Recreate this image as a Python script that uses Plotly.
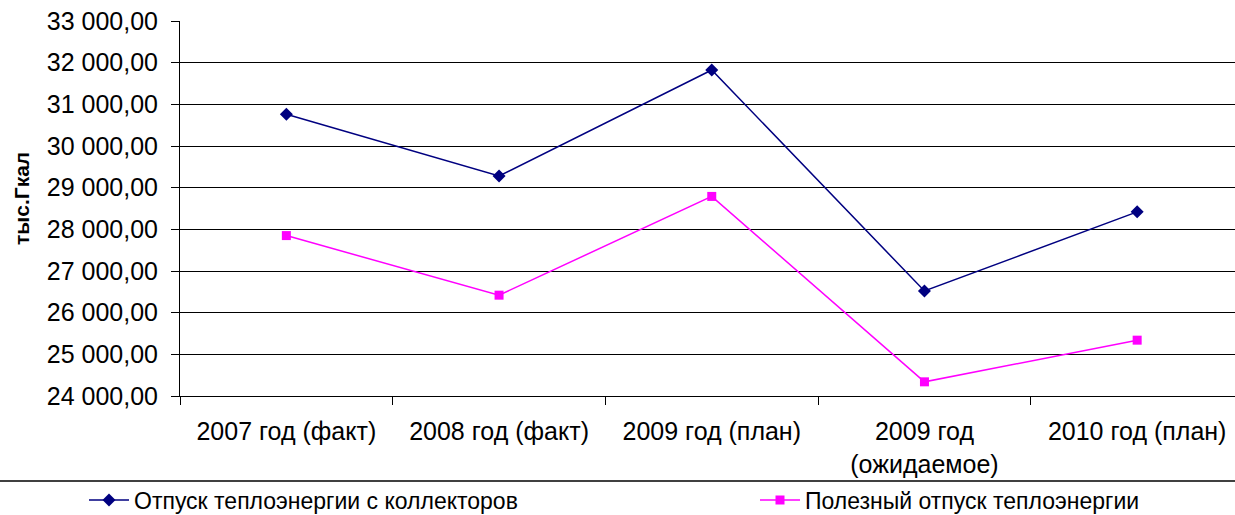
import plotly.graph_objects as go

categories = ["2007 год (факт)", "2008 год (факт)", "2009 год (план)", "2009 год<br>(ожидаемое)", "2010 год (план)"]
series1_name = "Отпуск теплоэнергии с коллекторов"
series1 = [30760, 29280, 31825, 26520, 28420]
series2_name = "Полезный отпуск теплоэнергии"
series2 = [27850, 26420, 28790, 24340, 25340]
y_title = "тыс.Гкал"

FONT = "Liberation Sans, Arial, sans-serif"

fig = go.Figure()
fig.add_trace(go.Scatter(
    x=categories, y=series1, name=series1_name, mode="lines+markers",
    line=dict(color="#000080", width=1.5),
    marker=dict(symbol="diamond", size=10, color="#000080"),
    legend="legend",
))
fig.add_trace(go.Scatter(
    x=categories, y=series2, name=series2_name, mode="lines+markers",
    line=dict(color="#FF00FF", width=1.5),
    marker=dict(symbol="square", size=9, color="#FF00FF"),
    legend="legend2",
))

W, H = 1235, 515
L, R, T, B = 180, 0, 21, 119
pw = W - L - R
ph = H - T - B

legend_common = dict(
    orientation="h", xref="container", yref="container",
    xanchor="left", yanchor="middle",
    font=dict(size=23), itemwidth=40,
    bgcolor="rgba(0,0,0,0)", borderwidth=0,
)

fig.update_layout(
    width=W, height=H,
    margin=dict(l=L, r=R, t=T, b=B, pad=0, autoexpand=False),
    paper_bgcolor="white", plot_bgcolor="white",
    font=dict(family=FONT, size=22, color="black"),
    separators=", ",
    showlegend=True,
    legend=dict(legend_common, x=84 / W, y=1 - 500 / H),
    legend2=dict(legend_common, x=755 / W, y=1 - 500 / H),
    xaxis=dict(
        type="category", range=[-0.5, 4.46],
        showgrid=False, showline=True, linecolor="black", linewidth=1,
        ticks="outside", tickson="boundaries", ticklen=8, tickcolor="black",
        ticklabelstandoff=13, tickfont=dict(size=25),
        zeroline=False, fixedrange=True,
    ),
    yaxis=dict(
        range=[24000, 33000], dtick=1000, tick0=24000,
        tickformat=",.2f",
        showgrid=True, gridcolor="black", gridwidth=1,
        showline=True, linecolor="black", linewidth=1,
        ticks="outside", ticklen=8, tickcolor="black",
        ticklabelstandoff=8,
        tickfont=dict(size=25),
        zeroline=False,
    ),
    annotations=[dict(
        text="<b>" + y_title + "</b>", textangle=-90, showarrow=False,
        xref="paper", yref="paper",
        x=(21 - L) / pw, y=(396 - 199) / ph,
        xanchor="center", yanchor="middle",
        font=dict(size=21),
    )],
    shapes=[dict(
        type="line", xref="paper", yref="paper",
        x0=-L / pw, x1=1, y0=(396 - 481) / ph, y1=(396 - 481) / ph,
        line=dict(color="black", width=1.5),
    )],
)

fig.write_html(
    "out.html",
    config={"displayModeBar": False},
    post_script="document.body.style.margin='0';document.body.style.overflow='hidden';",
)
